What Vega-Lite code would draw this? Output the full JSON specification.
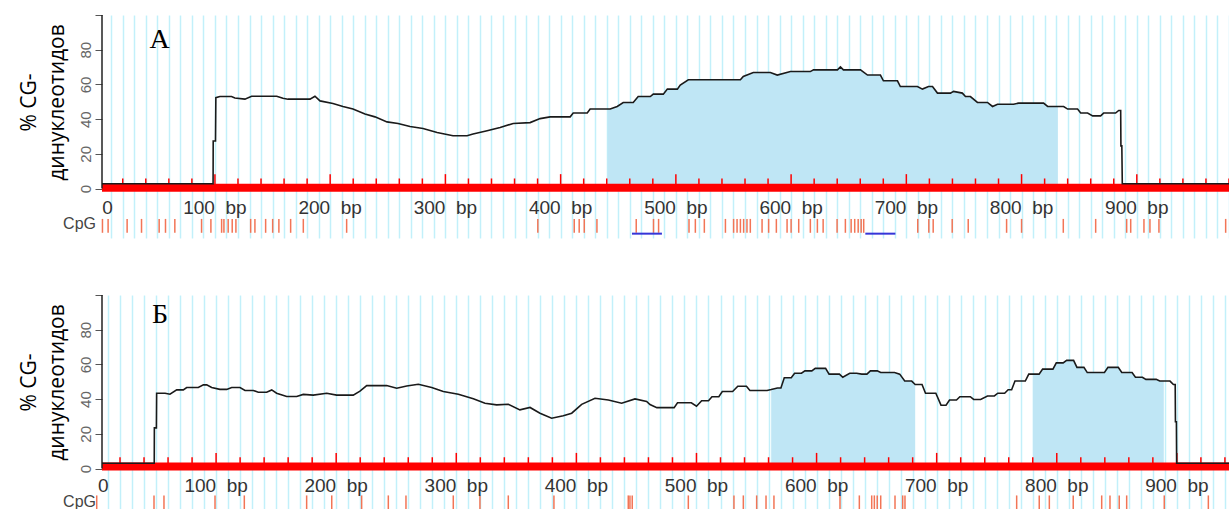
{
  "$schema": "https://vega.github.io/schema/vega-lite/v6.json",
  "background": "white",
  "padding": {"left": 17, "top": 14, "right": 0, "bottom": 0},
  "spacing": 56,
  "config": {"view": {"stroke": null}},
  "datasets": {
    "lineA": [
      {"bp": 2, "v": 2.8}, {"bp": 98.4, "v": 2.8}, {"bp": 98.5, "v": 27.4}, {"bp": 100.5, "v": 27.4}, {"bp": 100.8, "v": 52.4},
      {"bp": 104.3, "v": 53}, {"bp": 114.4, "v": 53}, {"bp": 117.3, "v": 52.2}, {"bp": 126, "v": 51.5}, {"bp": 131.8, "v": 53.2},
      {"bp": 153.6, "v": 53.2}, {"bp": 159, "v": 52}, {"bp": 163.4, "v": 51.5}, {"bp": 182.5, "v": 51.5}, {"bp": 186.8, "v": 53.2},
      {"bp": 191.2, "v": 50.5}, {"bp": 202.4, "v": 49}, {"bp": 211.1, "v": 47.3}, {"bp": 219.8, "v": 45.8}, {"bp": 230.2, "v": 42.9},
      {"bp": 238.9, "v": 41.3}, {"bp": 249.3, "v": 38.4}, {"bp": 258.9, "v": 37.5}, {"bp": 269.3, "v": 35.7}, {"bp": 280.6, "v": 34.6},
      {"bp": 292.8, "v": 32.3}, {"bp": 306.6, "v": 30.4}, {"bp": 318.8, "v": 30.4}, {"bp": 324, "v": 31.4}, {"bp": 336.2, "v": 33.3},
      {"bp": 347.5, "v": 35.2}, {"bp": 358.8, "v": 37.5}, {"bp": 373.5, "v": 38}, {"bp": 382.2, "v": 40.3}, {"bp": 390.9, "v": 41.3},
      {"bp": 408.3, "v": 41.3}, {"bp": 410.9, "v": 43.5}, {"bp": 423.1, "v": 43.5}, {"bp": 425.6, "v": 45.8}, {"bp": 440.7, "v": 45.8},
      {"bp": 443, "v": 45.8}, {"bp": 449.1, "v": 47.3}, {"bp": 454.3, "v": 49.6}, {"bp": 463, "v": 49.6}, {"bp": 467.3, "v": 53},
      {"bp": 477.8, "v": 53}, {"bp": 480.4, "v": 54.4}, {"bp": 489.1, "v": 54.4}, {"bp": 492.6, "v": 57.3}, {"bp": 501.3, "v": 57.3},
      {"bp": 503.8, "v": 59.6}, {"bp": 510.8, "v": 62.7}, {"bp": 556, "v": 62.7}, {"bp": 558.5, "v": 64.6}, {"bp": 567.2, "v": 66.9},
      {"bp": 582, "v": 66.9}, {"bp": 588, "v": 65.4}, {"bp": 599.4, "v": 67.4}, {"bp": 616.7, "v": 67.4}, {"bp": 619.4, "v": 68.4},
      {"bp": 640.2, "v": 68.4}, {"bp": 642.8, "v": 70.1}, {"bp": 645.4, "v": 68.4}, {"bp": 660.2, "v": 68.4}, {"bp": 666.3, "v": 65.4},
      {"bp": 677.5, "v": 65.4}, {"bp": 680.1, "v": 62.1}, {"bp": 692.3, "v": 62.1}, {"bp": 694.8, "v": 58.8}, {"bp": 709.6, "v": 58.8},
      {"bp": 714, "v": 57.3}, {"bp": 719.2, "v": 58.8}, {"bp": 722.7, "v": 58.8}, {"bp": 727, "v": 55}, {"bp": 738.3, "v": 55},
      {"bp": 741, "v": 56}, {"bp": 748.6, "v": 55}, {"bp": 751.3, "v": 53}, {"bp": 755.6, "v": 53}, {"bp": 761.7, "v": 49.6},
      {"bp": 770.4, "v": 49.6}, {"bp": 774.8, "v": 47.3}, {"bp": 779.1, "v": 48.6}, {"bp": 793, "v": 48.6}, {"bp": 797.4, "v": 49.2},
      {"bp": 819.1, "v": 49.2}, {"bp": 822.6, "v": 47.3}, {"bp": 831.5, "v": 47.3}, {"bp": 836.5, "v": 47.3}, {"bp": 840, "v": 45.8},
      {"bp": 848.6, "v": 45.8}, {"bp": 851.3, "v": 43.5}, {"bp": 857.3, "v": 43.5}, {"bp": 861.7, "v": 41.9}, {"bp": 868.6, "v": 41.9},
      {"bp": 871.2, "v": 43.5}, {"bp": 881.6, "v": 43.5}, {"bp": 884.3, "v": 45}, {"bp": 886, "v": 45}, {"bp": 886.2, "v": 24.6},
      {"bp": 887, "v": 24.6}, {"bp": 887.4, "v": 2.8}, {"bp": 980, "v": 2.8}
    ],
    "lineB": [
      {"bp": 5, "v": 3}, {"bp": 48.5, "v": 3}, {"bp": 48.6, "v": 23.4}, {"bp": 50.3, "v": 23.4}, {"bp": 50.5, "v": 43.4},
      {"bp": 57.5, "v": 43.4}, {"bp": 61.6, "v": 42.8}, {"bp": 67.2, "v": 45.3}, {"bp": 72.7, "v": 45.3}, {"bp": 75.5, "v": 46.7},
      {"bp": 85.2, "v": 46.7}, {"bp": 89.4, "v": 48.2}, {"bp": 92.2, "v": 48.2}, {"bp": 96.3, "v": 46.7}, {"bp": 103.2, "v": 45.6},
      {"bp": 108.8, "v": 45.6}, {"bp": 113, "v": 46.7}, {"bp": 119.9, "v": 46.7}, {"bp": 124.1, "v": 45}, {"bp": 131, "v": 45},
      {"bp": 135.1, "v": 44}, {"bp": 142.1, "v": 44}, {"bp": 146.3, "v": 45.3}, {"bp": 150.4, "v": 43.4}, {"bp": 158.8, "v": 41.5},
      {"bp": 167.1, "v": 41.5}, {"bp": 172.6, "v": 42.7}, {"bp": 180.9, "v": 42.3}, {"bp": 192.1, "v": 43.4}, {"bp": 200.4, "v": 42.3},
      {"bp": 214.2, "v": 42.3}, {"bp": 219.8, "v": 44.6}, {"bp": 225.4, "v": 47.8}, {"bp": 242, "v": 47.8}, {"bp": 250.4, "v": 46.3},
      {"bp": 258.7, "v": 47.6}, {"bp": 268.4, "v": 48.6}, {"bp": 279.5, "v": 46.7}, {"bp": 289.2, "v": 44.4}, {"bp": 301.7, "v": 42.8},
      {"bp": 314.2, "v": 40.2}, {"bp": 323.9, "v": 37.6}, {"bp": 333.6, "v": 36.7}, {"bp": 343.3, "v": 37}, {"bp": 353, "v": 33.8},
      {"bp": 361.4, "v": 35.2}, {"bp": 369.7, "v": 31.9}, {"bp": 379.4, "v": 29}, {"bp": 389.1, "v": 30.4}, {"bp": 396.1, "v": 31.9},
      {"bp": 404.4, "v": 37}, {"bp": 415.5, "v": 40.5}, {"bp": 426.6, "v": 39.5}, {"bp": 437.7, "v": 37.6}, {"bp": 448.8, "v": 40.1},
      {"bp": 458.5, "v": 38.7}, {"bp": 461.3, "v": 36.9}, {"bp": 467, "v": 35.1}, {"bp": 481.4, "v": 35.1}, {"bp": 484.2, "v": 37.9},
      {"bp": 495.7, "v": 37.9}, {"bp": 500, "v": 35.9}, {"bp": 504.3, "v": 39.1}, {"bp": 510, "v": 39.1}, {"bp": 512.9, "v": 41.4},
      {"bp": 518.6, "v": 41.4}, {"bp": 521.5, "v": 44.4}, {"bp": 530.1, "v": 44.4}, {"bp": 534.4, "v": 47.4}, {"bp": 541.6, "v": 47.4},
      {"bp": 544.5, "v": 45}, {"bp": 558.8, "v": 45}, {"bp": 562.2, "v": 45.5}, {"bp": 567.4, "v": 46.4}, {"bp": 570.3, "v": 46.4},
      {"bp": 573.1, "v": 52.3}, {"bp": 578.9, "v": 52.3}, {"bp": 581.7, "v": 54.9}, {"bp": 587.4, "v": 54.9}, {"bp": 590.3, "v": 56.3},
      {"bp": 596, "v": 56.3}, {"bp": 598.9, "v": 57.7}, {"bp": 607.5, "v": 57.7}, {"bp": 610.4, "v": 54.4}, {"bp": 619, "v": 54.4},
      {"bp": 621.8, "v": 52.6}, {"bp": 627.6, "v": 54.9}, {"bp": 633.3, "v": 54.9}, {"bp": 637.6, "v": 54.4}, {"bp": 641.9, "v": 54.4},
      {"bp": 644.8, "v": 56.3}, {"bp": 650.5, "v": 56.3}, {"bp": 653.4, "v": 55.3}, {"bp": 664.9, "v": 55.3}, {"bp": 669.2, "v": 54.4},
      {"bp": 673.4, "v": 50.4}, {"bp": 679.2, "v": 50.4}, {"bp": 682.1, "v": 48.4}, {"bp": 687.8, "v": 48.4}, {"bp": 690.7, "v": 43.4},
      {"bp": 699.3, "v": 43.4}, {"bp": 703.6, "v": 36.5}, {"bp": 707.8, "v": 36.5}, {"bp": 710.7, "v": 39.5}, {"bp": 716.5, "v": 39.5},
      {"bp": 719.3, "v": 41.4}, {"bp": 728, "v": 41.4}, {"bp": 730.8, "v": 39.8}, {"bp": 736.6, "v": 39.8}, {"bp": 742.3, "v": 41.8},
      {"bp": 748, "v": 41.8}, {"bp": 750.9, "v": 43.4}, {"bp": 756.6, "v": 43.4}, {"bp": 759.5, "v": 45.4}, {"bp": 762.4, "v": 45.4},
      {"bp": 765.2, "v": 50.4}, {"bp": 773.8, "v": 50.4}, {"bp": 776.7, "v": 54.4}, {"bp": 780.1, "v": 54.4}, {"bp": 785.3, "v": 54.4},
      {"bp": 788.2, "v": 57.3}, {"bp": 796.8, "v": 57.3}, {"bp": 799.6, "v": 60.9}, {"bp": 805.3, "v": 60.9}, {"bp": 808.2, "v": 62.3},
      {"bp": 814, "v": 62.3}, {"bp": 816.8, "v": 58.3}, {"bp": 822.6, "v": 58.3}, {"bp": 825.4, "v": 55.3}, {"bp": 839.7, "v": 55.3},
      {"bp": 842.6, "v": 58.3}, {"bp": 851.2, "v": 58.3}, {"bp": 854.1, "v": 55.3}, {"bp": 862.7, "v": 55.3}, {"bp": 865.5, "v": 52.6},
      {"bp": 871.3, "v": 52.6}, {"bp": 874.2, "v": 51.4}, {"bp": 882.8, "v": 51.4}, {"bp": 885.7, "v": 50.4}, {"bp": 889.1, "v": 50.4},
      {"bp": 894.3, "v": 50.4}, {"bp": 897.1, "v": 48.4}, {"bp": 898.6, "v": 48.4}, {"bp": 898.8, "v": 27}, {"bp": 899.6, "v": 27},
      {"bp": 899.8, "v": 3}, {"bp": 943.4, "v": 3}
    ],
    "cpgA": [
      {"bp": 2.4}, {"bp": 7.3}, {"bp": 23.8}, {"bp": 36.3}, {"bp": 51.6}, {"bp": 57.1}, {"bp": 65.2}, {"bp": 88.4}, {"bp": 96.5},
      {"bp": 105.8}, {"bp": 107.8}, {"bp": 111.5}, {"bp": 115}, {"bp": 118.2}, {"bp": 131}, {"bp": 134.7}, {"bp": 144}, {"bp": 150.1},
      {"bp": 155.5}, {"bp": 165.7}, {"bp": 176.7}, {"bp": 214.3}, {"bp": 380.2}, {"bp": 411.8}, {"bp": 416.1}, {"bp": 420.5},
      {"bp": 431.5}, {"bp": 465.6}, {"bp": 480.6}, {"bp": 485}, {"bp": 511.4}, {"bp": 516.9}, {"bp": 524.7}, {"bp": 543},
      {"bp": 550.1}, {"bp": 553.1}, {"bp": 556}, {"bp": 558.8}, {"bp": 561.7}, {"bp": 564.6}, {"bp": 574.8}, {"bp": 580.5},
      {"bp": 587.2}, {"bp": 596.5}, {"bp": 600}, {"bp": 606.6}, {"bp": 616.7}, {"bp": 622.8}, {"bp": 627.8}, {"bp": 639.9},
      {"bp": 647.1}, {"bp": 652.1}, {"bp": 655.2}, {"bp": 658.2}, {"bp": 660.8}, {"bp": 663}, {"bp": 709.9}, {"bp": 719.5},
      {"bp": 723.3}, {"bp": 739.8}, {"bp": 753.7}, {"bp": 787}, {"bp": 800}, {"bp": 836.2}, {"bp": 864.3}, {"bp": 891.2},
      {"bp": 894.7}, {"bp": 906.2}, {"bp": 911.4}, {"bp": 919.2}, {"bp": 977.1}
    ],
    "cpgB": [
      {"bp": 0.6}, {"bp": 48.3}, {"bp": 56.6}, {"bp": 99.1}, {"bp": 123.5}, {"bp": 175.4}, {"bp": 196.3}, {"bp": 221.2},
      {"bp": 243.4}, {"bp": 258.1}, {"bp": 297.5}, {"bp": 319.7}, {"bp": 343.3}, {"bp": 381.3}, {"bp": 443.2}, {"bp": 444.6},
      {"bp": 446.5}, {"bp": 493.2}, {"bp": 531.2}, {"bp": 539}, {"bp": 550.1}, {"bp": 557.9}, {"bp": 564.5}, {"bp": 619.5},
      {"bp": 635.6}, {"bp": 645.9}, {"bp": 648.1}, {"bp": 650.5}, {"bp": 653.4}, {"bp": 665.3}, {"bp": 671.7}, {"bp": 673.6},
      {"bp": 766.6}, {"bp": 785.4}, {"bp": 793.8}, {"bp": 813.7}, {"bp": 837.4}, {"bp": 844.3}, {"bp": 852}, {"bp": 858.2},
      {"bp": 889.5}, {"bp": 926.2}
    ],
    "scaleTicks": [
      {"t": 20}, {"t": 40}, {"t": 60}, {"t": 80}, {"t": 100}, {"t": 120}, {"t": 140}, {"t": 160}, {"t": 180}, {"t": 200},
      {"t": 220}, {"t": 240}, {"t": 260}, {"t": 280}, {"t": 300}, {"t": 320}, {"t": 340}, {"t": 360}, {"t": 380}, {"t": 400},
      {"t": 420}, {"t": 440}, {"t": 460}, {"t": 480}, {"t": 500}, {"t": 520}, {"t": 540}, {"t": 560}, {"t": 580}, {"t": 600},
      {"t": 620}, {"t": 640}, {"t": 660}, {"t": 680}, {"t": 700}, {"t": 720}, {"t": 740}, {"t": 760}, {"t": 780}, {"t": 800},
      {"t": 820}, {"t": 840}, {"t": 860}, {"t": 880}, {"t": 900}, {"t": 920}, {"t": 940}, {"t": 960}, {"t": 980}
    ],
    "xlab": [
      {"t": 0, "label": "0"}, {"t": 100, "label": "100\u00a0\u00a0bp"}, {"t": 200, "label": "200\u00a0\u00a0bp"}, {"t": 300, "label": "300\u00a0\u00a0bp"},
      {"t": 400, "label": "400\u00a0\u00a0bp"}, {"t": 500, "label": "500\u00a0\u00a0bp"}, {"t": 600, "label": "600\u00a0\u00a0bp"}, {"t": 700, "label": "700\u00a0\u00a0bp"},
      {"t": 800, "label": "800\u00a0\u00a0bp"}, {"t": 900, "label": "900\u00a0\u00a0bp"}
    ],
    "underA": [{"start": 461.9, "end": 487.9}, {"start": 664.4, "end": 690.5}]
  },
  "vconcat": [
    {
      "width": 1127,
      "height": 223,
      "layer": [
        {
          "data": {"name": "lineA"},
          "transform": [{"filter": "datum.bp >= 440.7 && datum.bp <= 831.5"}],
          "mark": {"type": "area", "color": "#bfe6f5"},
          "encoding": {
            "x": {"field": "bp", "type": "quantitative", "scale": {"domain": [2, 980], "nice": false, "zero": false},
                  "axis": {"grid": true, "gridColor": "#c2f0fa", "gridWidth": 1.5, "tickCount": 98, "domain": false, "ticks": false, "labels": false, "title": null}},
            "y": {"field": "v", "type": "quantitative", "scale": {"domain": [-28.5, 100], "nice": false, "zero": false},
                  "axis": {"values": [0, 10, 20, 30, 40, 50, 60, 70, 80, 90, 100], "grid": false, "domain": false, "tickSize": 7, "tickColor": "#555555", "tickWidth": 1,
                           "labelExpr": "datum.value % 20 == 0 && datum.value < 100 ? datum.label : ''", "labelAngle": -90, "labelAlign": "center", "labelBaseline": "bottom",
                           "labelPadding": 2, "labelColor": "#666666", "labelFont": "Liberation Sans", "labelFontSize": 15, "labelOverlap": false,
                           "title": ["% CG-", "динуклеотидов"], "titleFont": "Open Sans", "titleFontSize": 21, "titleFontWeight": "normal", "titleColor": "#000000",
                           "titleLineHeight": 28, "titleAngle": -90, "titleX": -67, "titleY": 87, "titleAlign": "center", "titleBaseline": "alphabetic"}}
          }
        },
        {
          "data": {"values": [{}]},
          "mark": {"type": "rule", "color": "#ff0000", "strokeWidth": 8},
          "encoding": {"y": {"datum": 0.5}}
        },
        {
          "data": {"name": "scaleTicks"},
          "transform": [{"filter": "datum.t % 100 != 0"}],
          "mark": {"type": "rule", "color": "#ff0000", "strokeWidth": 1.5},
          "encoding": {"x": {"field": "t", "type": "quantitative"}, "y": {"datum": 0.5}, "y2": {"datum": 5.8}}
        },
        {
          "data": {"name": "scaleTicks"},
          "transform": [{"filter": "datum.t % 100 == 0"}],
          "mark": {"type": "rule", "color": "#ff0000", "strokeWidth": 1.5},
          "encoding": {"x": {"field": "t", "type": "quantitative"}, "y": {"datum": 0.5}, "y2": {"datum": 8.3}}
        },
        {
          "data": {"name": "cpgA"},
          "mark": {"type": "rule", "color": "#f27556", "strokeWidth": 1.5},
          "encoding": {"x": {"field": "bp", "type": "quantitative"}, "y": {"datum": -17.5}, "y2": {"datum": -25.5}}
        },
        {
          "data": {"name": "underA"},
          "mark": {"type": "rule", "color": "#3535d8", "strokeWidth": 2},
          "encoding": {"x": {"field": "start", "type": "quantitative"}, "x2": {"field": "end"}, "y": {"datum": -26}}
        },
        {
          "data": {"name": "xlab"},
          "transform": [{"filter": "datum.t > 0"}],
          "mark": {"type": "text", "font": "Liberation Sans", "fontSize": 19, "color": "#333333", "align": "center", "baseline": "middle"},
          "encoding": {"x": {"field": "t", "type": "quantitative"}, "y": {"datum": -11.1}, "text": {"field": "label"}}
        },
        {
          "data": {"name": "xlab"},
          "transform": [{"filter": "datum.t == 0"}],
          "mark": {"type": "text", "font": "Liberation Sans", "fontSize": 19, "color": "#333333", "align": "left", "baseline": "middle", "dx": 2.5},
          "encoding": {"x": {"field": "t", "type": "quantitative"}, "y": {"datum": -11.1}, "text": {"field": "label"}}
        },
        {
          "data": {"values": [{"label": "CpG"}]},
          "mark": {"type": "text", "font": "Liberation Sans", "fontSize": 16, "color": "#444444", "align": "right", "baseline": "middle", "dx": -6},
          "encoding": {"x": {"datum": 2}, "y": {"datum": -20.5}, "text": {"field": "label"}}
        },
        {
          "data": {"values": [{"label": "А"}]},
          "mark": {"type": "text", "font": "Liberation Serif", "fontSize": 28, "color": "#000000", "align": "center", "baseline": "alphabetic"},
          "encoding": {"x": {"datum": 52}, "y": {"datum": 81}, "text": {"field": "label"}}
        },
        {
          "data": {"values": [{}]},
          "mark": {"type": "rule", "color": "#222222", "strokeWidth": 1.5},
          "encoding": {"x": {"datum": 2}, "y": {"datum": 0}, "y2": {"datum": 100}}
        },
        {
          "data": {"name": "lineA"},
          "mark": {"type": "line", "color": "#1a1a1a", "strokeWidth": 1.6},
          "encoding": {"x": {"field": "bp", "type": "quantitative"}, "y": {"field": "v", "type": "quantitative"}}
        }
      ]
    },
    {
      "width": 1127,
      "height": 215,
      "layer": [
        {
          "data": {"name": "lineB"},
          "transform": [{"filter": "datum.bp >= 562.2 && datum.bp <= 682.1"}],
          "mark": {"type": "area", "color": "#bfe6f5"},
          "encoding": {
            "x": {"field": "bp", "type": "quantitative", "scale": {"domain": [5, 943.4], "nice": false, "zero": false},
                  "axis": {"grid": true, "gridColor": "#c2f0fa", "gridWidth": 1.5, "tickCount": 98, "domain": false, "ticks": false, "labels": false, "title": null}},
            "y": {"field": "v", "type": "quantitative", "scale": {"domain": [-23.9, 100], "nice": false, "zero": false},
                  "axis": {"values": [0, 10, 20, 30, 40, 50, 60, 70, 80, 90, 100], "grid": false, "domain": false, "tickSize": 7, "tickColor": "#555555", "tickWidth": 1,
                           "labelExpr": "datum.value % 20 == 0 && datum.value < 100 ? datum.label : ''", "labelAngle": -90, "labelAlign": "center", "labelBaseline": "bottom",
                           "labelPadding": 2, "labelColor": "#666666", "labelFont": "Liberation Sans", "labelFontSize": 15, "labelOverlap": false,
                           "title": ["% CG-", "динуклеотидов"], "titleFont": "Open Sans", "titleFontSize": 21, "titleFontWeight": "normal", "titleColor": "#000000",
                           "titleLineHeight": 28, "titleAngle": -90, "titleX": -67, "titleY": 87, "titleAlign": "center", "titleBaseline": "alphabetic"}}
          }
        },
        {
          "data": {"name": "lineB"},
          "transform": [{"filter": "datum.bp >= 780.1 && datum.bp <= 889.1"}],
          "mark": {"type": "area", "color": "#bfe6f5"},
          "encoding": {"x": {"field": "bp", "type": "quantitative"}, "y": {"field": "v", "type": "quantitative"}}
        },
        {
          "data": {"values": [{}]},
          "mark": {"type": "rule", "color": "#ff0000", "strokeWidth": 8},
          "encoding": {"y": {"datum": 1.2}}
        },
        {
          "data": {"name": "scaleTicks"},
          "transform": [{"filter": "datum.t % 100 != 0 && datum.t <= 940"}],
          "mark": {"type": "rule", "color": "#ff0000", "strokeWidth": 1.5},
          "encoding": {"x": {"field": "t", "type": "quantitative"}, "y": {"datum": 1.2}, "y2": {"datum": 6.5}}
        },
        {
          "data": {"name": "scaleTicks"},
          "transform": [{"filter": "datum.t % 100 == 0 && datum.t <= 940"}],
          "mark": {"type": "rule", "color": "#ff0000", "strokeWidth": 1.5},
          "encoding": {"x": {"field": "t", "type": "quantitative"}, "y": {"datum": 1.2}, "y2": {"datum": 9}}
        },
        {
          "data": {"name": "cpgB"},
          "mark": {"type": "rule", "color": "#f27556", "strokeWidth": 1.5},
          "encoding": {"x": {"field": "bp", "type": "quantitative"}, "y": {"datum": -15.5}, "y2": {"datum": -23.9}}
        },
        {
          "data": {"name": "xlab"},
          "transform": [{"filter": "datum.t > 0"}],
          "mark": {"type": "text", "font": "Liberation Sans", "fontSize": 19, "color": "#333333", "align": "center", "baseline": "middle"},
          "encoding": {"x": {"field": "t", "type": "quantitative"}, "y": {"datum": -9.8}, "text": {"field": "label"}}
        },
        {
          "data": {"name": "xlab"},
          "transform": [{"filter": "datum.t == 0"}],
          "mark": {"type": "text", "font": "Liberation Sans", "fontSize": 19, "color": "#333333", "align": "left", "baseline": "middle", "dx": 2},
          "encoding": {"x": {"field": "t", "type": "quantitative"}, "y": {"datum": -9.8}, "text": {"field": "label"}}
        },
        {
          "data": {"values": [{"label": "CpG"}]},
          "mark": {"type": "text", "font": "Liberation Sans", "fontSize": 16, "color": "#444444", "align": "right", "baseline": "middle", "dx": -6},
          "encoding": {"x": {"datum": 5}, "y": {"datum": -19.4}, "text": {"field": "label"}}
        },
        {
          "data": {"values": [{"label": "Б"}]},
          "mark": {"type": "text", "font": "Liberation Serif", "fontSize": 28, "color": "#000000", "align": "center", "baseline": "alphabetic"},
          "encoding": {"x": {"datum": 53.3}, "y": {"datum": 83.7}, "text": {"field": "label"}}
        },
        {
          "data": {"values": [{}]},
          "mark": {"type": "rule", "color": "#222222", "strokeWidth": 1.5},
          "encoding": {"x": {"datum": 5}, "y": {"datum": 0}, "y2": {"datum": 100}}
        },
        {
          "data": {"name": "lineB"},
          "mark": {"type": "line", "color": "#1a1a1a", "strokeWidth": 1.6},
          "encoding": {"x": {"field": "bp", "type": "quantitative"}, "y": {"field": "v", "type": "quantitative"}}
        }
      ]
    }
  ]
}
